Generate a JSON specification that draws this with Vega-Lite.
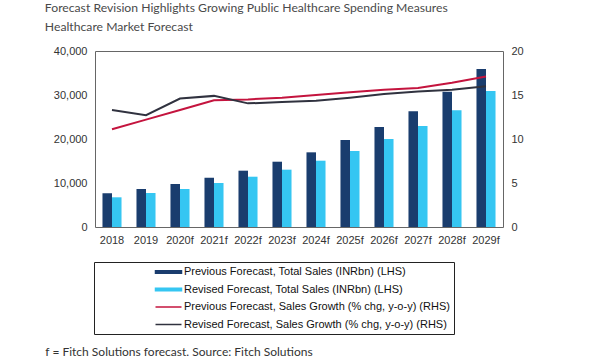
{
  "$schema": "https://vega.github.io/schema/vega-lite/v6.json",
  "padding": {"left": 44, "top": 2, "right": 5, "bottom": 0},
  "title": {
    "text": ["Forecast Revision Highlights Growing Public Healthcare Spending Measures", "Healthcare Market Forecast"],
    "anchor": "start", "frame": "bounds", "font": "Lato", "fontSize": 12.2, "fontWeight": "normal",
    "color": "#4a4a4a", "lineHeight": 19, "offset": 11, "dx": 0
  },
  "datasets": {
    "sales": [
      {"year": "2018", "series": "Previous Forecast, Total Sales (INRbn) (LHS)", "value": 7650},
      {"year": "2018", "series": "Revised Forecast, Total Sales (INRbn) (LHS)", "value": 6750},
      {"year": "2019", "series": "Previous Forecast, Total Sales (INRbn) (LHS)", "value": 8640},
      {"year": "2019", "series": "Revised Forecast, Total Sales (INRbn) (LHS)", "value": 7730},
      {"year": "2020f", "series": "Previous Forecast, Total Sales (INRbn) (LHS)", "value": 9770},
      {"year": "2020f", "series": "Revised Forecast, Total Sales (INRbn) (LHS)", "value": 8640},
      {"year": "2021f", "series": "Previous Forecast, Total Sales (INRbn) (LHS)", "value": 11200},
      {"year": "2021f", "series": "Revised Forecast, Total Sales (INRbn) (LHS)", "value": 10000},
      {"year": "2022f", "series": "Previous Forecast, Total Sales (INRbn) (LHS)", "value": 12800},
      {"year": "2022f", "series": "Revised Forecast, Total Sales (INRbn) (LHS)", "value": 11430},
      {"year": "2023f", "series": "Previous Forecast, Total Sales (INRbn) (LHS)", "value": 14840},
      {"year": "2023f", "series": "Revised Forecast, Total Sales (INRbn) (LHS)", "value": 13030},
      {"year": "2024f", "series": "Previous Forecast, Total Sales (INRbn) (LHS)", "value": 16970},
      {"year": "2024f", "series": "Revised Forecast, Total Sales (INRbn) (LHS)", "value": 15070},
      {"year": "2025f", "series": "Previous Forecast, Total Sales (INRbn) (LHS)", "value": 19770},
      {"year": "2025f", "series": "Revised Forecast, Total Sales (INRbn) (LHS)", "value": 17270},
      {"year": "2026f", "series": "Previous Forecast, Total Sales (INRbn) (LHS)", "value": 22730},
      {"year": "2026f", "series": "Revised Forecast, Total Sales (INRbn) (LHS)", "value": 20000},
      {"year": "2027f", "series": "Previous Forecast, Total Sales (INRbn) (LHS)", "value": 26290},
      {"year": "2027f", "series": "Revised Forecast, Total Sales (INRbn) (LHS)", "value": 22950},
      {"year": "2028f", "series": "Previous Forecast, Total Sales (INRbn) (LHS)", "value": 30750},
      {"year": "2028f", "series": "Revised Forecast, Total Sales (INRbn) (LHS)", "value": 26520},
      {"year": "2029f", "series": "Previous Forecast, Total Sales (INRbn) (LHS)", "value": 35900},
      {"year": "2029f", "series": "Revised Forecast, Total Sales (INRbn) (LHS)", "value": 30900}
    ],
    "growth": [
      {"year": "2018", "series": "Previous Forecast, Sales Growth (% chg, y-o-y) (RHS)", "value": 11.1},
      {"year": "2019", "series": "Previous Forecast, Sales Growth (% chg, y-o-y) (RHS)", "value": 12.2},
      {"year": "2020f", "series": "Previous Forecast, Sales Growth (% chg, y-o-y) (RHS)", "value": 13.3},
      {"year": "2021f", "series": "Previous Forecast, Sales Growth (% chg, y-o-y) (RHS)", "value": 14.4},
      {"year": "2022f", "series": "Previous Forecast, Sales Growth (% chg, y-o-y) (RHS)", "value": 14.5},
      {"year": "2023f", "series": "Previous Forecast, Sales Growth (% chg, y-o-y) (RHS)", "value": 14.7},
      {"year": "2024f", "series": "Previous Forecast, Sales Growth (% chg, y-o-y) (RHS)", "value": 15.0},
      {"year": "2025f", "series": "Previous Forecast, Sales Growth (% chg, y-o-y) (RHS)", "value": 15.3},
      {"year": "2026f", "series": "Previous Forecast, Sales Growth (% chg, y-o-y) (RHS)", "value": 15.6},
      {"year": "2027f", "series": "Previous Forecast, Sales Growth (% chg, y-o-y) (RHS)", "value": 15.8},
      {"year": "2028f", "series": "Previous Forecast, Sales Growth (% chg, y-o-y) (RHS)", "value": 16.4},
      {"year": "2029f", "series": "Previous Forecast, Sales Growth (% chg, y-o-y) (RHS)", "value": 17.1},
      {"year": "2018", "series": "Revised Forecast, Sales Growth (% chg, y-o-y) (RHS)", "value": 13.3},
      {"year": "2019", "series": "Revised Forecast, Sales Growth (% chg, y-o-y) (RHS)", "value": 12.7},
      {"year": "2020f", "series": "Revised Forecast, Sales Growth (% chg, y-o-y) (RHS)", "value": 14.6},
      {"year": "2021f", "series": "Revised Forecast, Sales Growth (% chg, y-o-y) (RHS)", "value": 14.9},
      {"year": "2022f", "series": "Revised Forecast, Sales Growth (% chg, y-o-y) (RHS)", "value": 14.05},
      {"year": "2023f", "series": "Revised Forecast, Sales Growth (% chg, y-o-y) (RHS)", "value": 14.2},
      {"year": "2024f", "series": "Revised Forecast, Sales Growth (% chg, y-o-y) (RHS)", "value": 14.35},
      {"year": "2025f", "series": "Revised Forecast, Sales Growth (% chg, y-o-y) (RHS)", "value": 14.7},
      {"year": "2026f", "series": "Revised Forecast, Sales Growth (% chg, y-o-y) (RHS)", "value": 15.1},
      {"year": "2027f", "series": "Revised Forecast, Sales Growth (% chg, y-o-y) (RHS)", "value": 15.4},
      {"year": "2028f", "series": "Revised Forecast, Sales Growth (% chg, y-o-y) (RHS)", "value": 15.6},
      {"year": "2029f", "series": "Revised Forecast, Sales Growth (% chg, y-o-y) (RHS)", "value": 16.0}
    ]
  },
  "vconcat": [
    {
      "width": 408,
      "height": 176,
      "title": {
        "text": "f = Fitch Solutions forecast. Source: Fitch Solutions",
        "orient": "bottom", "anchor": "start", "frame": "bounds", "font": "Lato", "fontSize": 12,
        "fontWeight": "normal", "color": "#333333", "offset": 102, "dx": -8
      },
      "layer": [
        {
          "data": {"name": "sales"},
          "mark": {"type": "bar"},
          "encoding": {
            "x": {
              "field": "year", "type": "nominal", "sort": null,
              "scale": {"paddingInner": 0.44, "paddingOuter": 0.22},
              "axis": {"title": null, "labelAngle": 0, "ticks": false, "domain": false, "labelPadding": 7}
            },
            "xOffset": {
              "field": "series", "type": "nominal",
              "sort": ["Previous Forecast, Total Sales (INRbn) (LHS)", "Revised Forecast, Total Sales (INRbn) (LHS)"]
            },
            "y": {
              "field": "value", "type": "quantitative",
              "scale": {"domain": [0, 40000]},
              "axis": {"title": null, "values": [0, 10000, 20000, 30000, 40000], "format": ",.0f", "ticks": false, "domain": false, "grid": false, "labelPadding": 8}
            },
            "color": {
              "field": "series", "type": "nominal",
              "scale": {
                "domain": [
                  "Previous Forecast, Total Sales (INRbn) (LHS)",
                  "Revised Forecast, Total Sales (INRbn) (LHS)",
                  "Previous Forecast, Sales Growth (% chg, y-o-y) (RHS)",
                  "Revised Forecast, Sales Growth (% chg, y-o-y) (RHS)"
                ],
                "range": ["#1a3d6e", "#35c6f2", "#c4143e", "#30323f"]
              },
              "legend": {
                "title": null, "orient": "none", "legendX": -1, "legendY": 211,
                "strokeColor": "#222222", "padding": 4, "symbolSize": 100,
                "symbolOffset": 58, "labelOffset": 16, "rowPadding": 6.5, "labelLimit": 0,
                "labelFont": "Liberation Sans", "labelFontSize": 11, "labelColor": "#111111",
                "encode": {
                  "symbols": {
                    "update": {
                      "shape": {"signal": "indexof(datum.value, 'Total Sales') >= 0 ? 'M-1.3,-0.25H3.9V0.25H-1.3Z' : 'M-1.3,0H3.9'"},
                      "fill": {"scale": "color", "field": "value"},
                      "stroke": {"scale": "color", "field": "value"},
                      "strokeWidth": {"value": 1.5},
                      "opacity": {"value": 1}
                    }
                  },
                  "legend": {"update": {"width": {"value": 396}}}
                }
              }
            }
          }
        },
        {
          "data": {"name": "growth"},
          "mark": {"type": "line", "strokeWidth": 2},
          "encoding": {
            "x": {"field": "year", "type": "nominal", "sort": null},
            "y": {
              "field": "value", "type": "quantitative",
              "scale": {"domain": [0, 20]},
              "axis": {"orient": "right", "title": null, "values": [0, 5, 10, 15, 20], "ticks": false, "domain": false, "grid": false, "labelPadding": 8}
            },
            "color": {"field": "series", "type": "nominal"}
          }
        }
      ],
      "resolve": {"scale": {"y": "independent"}}
    }
  ],
  "config": {
    "font": "Liberation Sans",
    "background": "white",
    "view": {"stroke": "#666666", "strokeWidth": 1},
    "axis": {"labelFont": "Liberation Sans", "labelFontSize": 11, "labelColor": "#333333"}
  }
}
